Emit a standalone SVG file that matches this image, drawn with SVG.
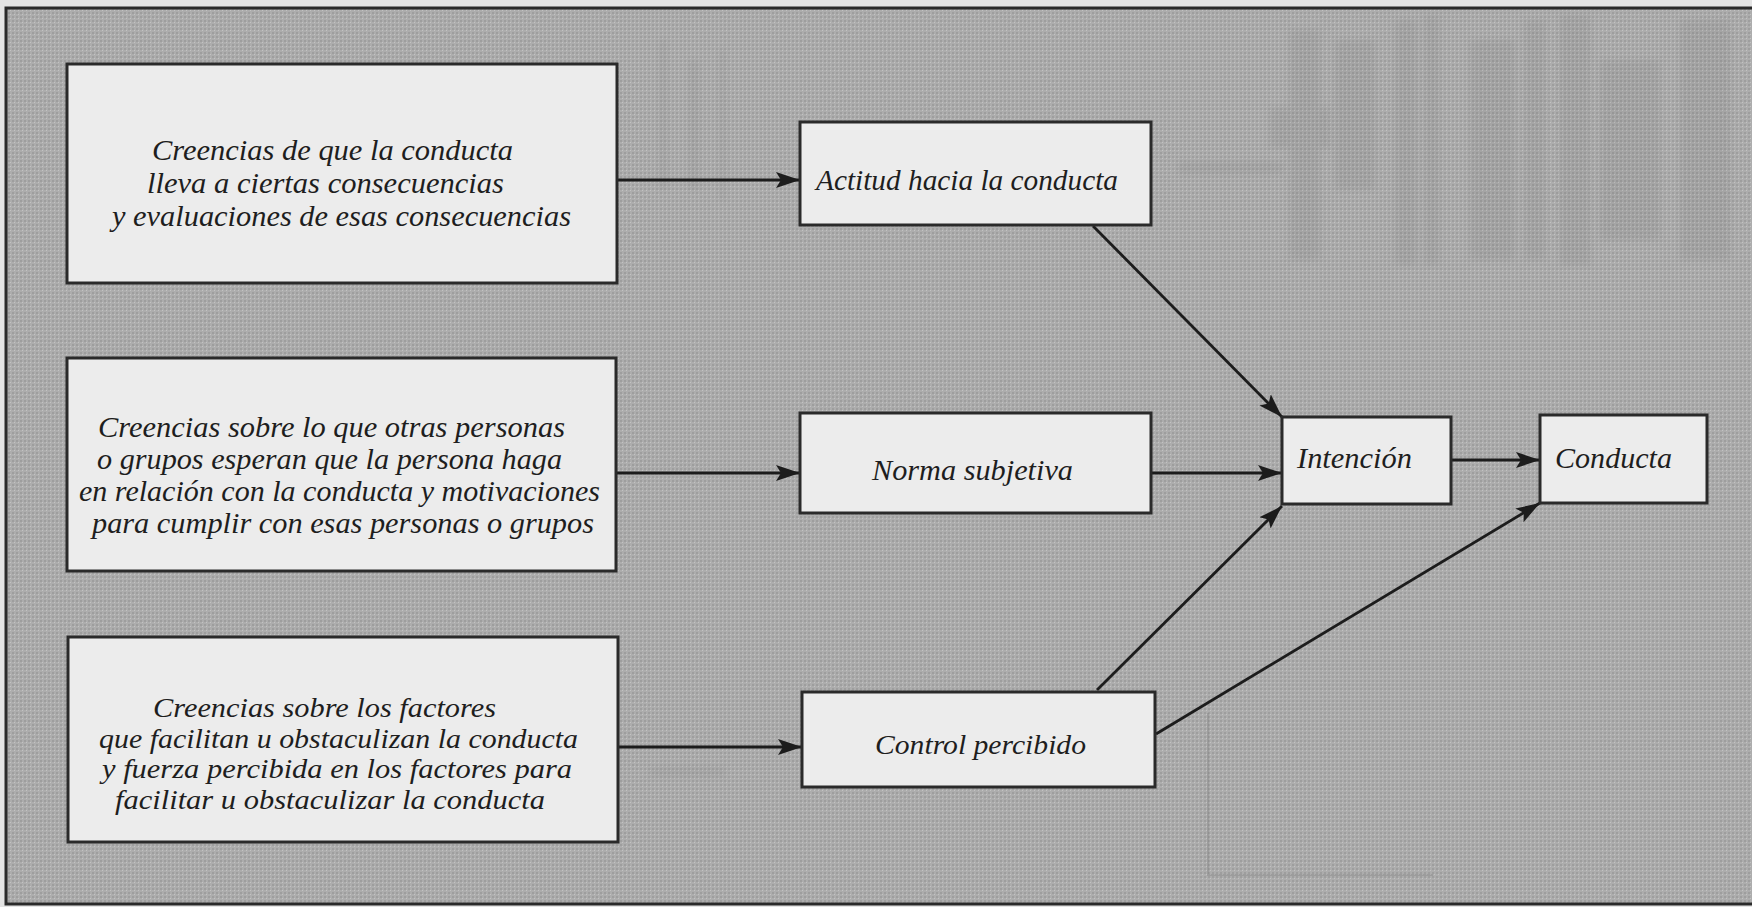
<svg xmlns="http://www.w3.org/2000/svg" width="1752" height="907" viewBox="0 0 1752 907">
  <defs>
    <!-- halftone screen for the printed background -->
    <pattern id="screen" width="4" height="4" patternUnits="userSpaceOnUse">
      <rect width="4" height="4" fill="#adadad"/>
      <rect x="0" y="0" width="2" height="2" fill="#909090" opacity="0.5"/>
      <rect x="2" y="2" width="1" height="1" fill="#d2d2d2" opacity="0.6"/>
    </pattern>
    <filter id="soft" x="-10%" y="-10%" width="120%" height="120%">
      <feGaussianBlur stdDeviation="3"/>
    </filter>
    <marker id="arrow" markerUnits="userSpaceOnUse" markerWidth="26" markerHeight="20" refX="24" refY="10" orient="auto">
      <path d="M0,2 L24,10 L0,18 L5,10 Z" fill="#1c1c1c"/>
    </marker>
    <style>
      .box { fill: #ececec; stroke: #2a2a2a; stroke-width: 3; }
      .lbl { font-family: "Liberation Serif", "Times New Roman", serif; font-style: italic; font-size: 30px; fill: #1e1e1e; }
      .b1 { font-size: 29.5px; }
      .b2 { font-size: 28.5px; }
      .small { font-size: 27px; }
      .conn { stroke: #1c1c1c; stroke-width: 2.8; fill: none; marker-end: url(#arrow); }
      .ghost { fill: #5a5a5a; }
    </style>
  </defs>

  <!-- paper margin and printed panel -->
  <rect x="0" y="0" width="1752" height="907" fill="#e4e4e4"/>
  <rect x="6" y="8" width="1760" height="896" fill="url(#screen)" stroke="#2a2a2a" stroke-width="3"/>

  <!-- faint show-through from the facing page -->
  <g id="show-through" opacity="0.09" filter="url(#soft)">
    <rect class="ghost" x="1290" y="30" width="30" height="230"/>
    <rect class="ghost" x="1335" y="40" width="40" height="150"/>
    <rect class="ghost" x="1395" y="20" width="22" height="245"/>
    <rect class="ghost" x="1425" y="15" width="14" height="250"/>
    <rect class="ghost" x="1470" y="40" width="45" height="220"/>
    <rect class="ghost" x="1525" y="20" width="20" height="240"/>
    <rect class="ghost" x="1560" y="15" width="30" height="250"/>
    <rect class="ghost" x="1600" y="60" width="60" height="180"/>
    <rect class="ghost" x="1680" y="20" width="50" height="240"/>
    <rect class="ghost" x="1178" y="162" width="105" height="12"/>
    <rect class="ghost" x="1270" y="108" width="60" height="40"/>
    <rect class="ghost" x="660" y="40" width="6" height="150"/>
    <rect class="ghost" x="690" y="60" width="8" height="130"/>
    <rect class="ghost" x="720" y="50" width="5" height="150"/>
    <rect class="ghost" x="650" y="768" width="75" height="8"/>
  </g>
  <g id="ghost-frame" fill="none" stroke="#6a6a6a" stroke-width="2" opacity="0.25">
    <path d="M1208,713 L1208,875 L1433,875"/>
  </g>

  <g id="connectors">
    <path class="conn" d="M617,180 L800,180"/>
    <path class="conn" d="M616,473 L800,473"/>
    <path class="conn" d="M618,747 L802,747"/>
    <path class="conn" d="M1093,226 L1282,417"/>
    <path class="conn" d="M1151,473 L1282,473"/>
    <path class="conn" d="M1097,690 L1282,506"/>
    <path class="conn" d="M1156,734 L1540,503"/>
    <path class="conn" d="M1451,460 L1540,460"/>
  </g>

  <g id="creencias-consecuencias">
    <rect class="box" x="67" y="64" width="550" height="219"/>
    <text class="lbl b1" x="152" y="160" textLength="361" lengthAdjust="spacingAndGlyphs">Creencias de que la conducta</text>
    <text class="lbl b1" x="147" y="193" textLength="357" lengthAdjust="spacingAndGlyphs">lleva a ciertas consecuencias</text>
    <text class="lbl b1" x="112" y="226" textLength="459" lengthAdjust="spacingAndGlyphs">y evaluaciones de esas consecuencias</text>
  </g>

  <g id="creencias-normativas">
    <rect class="box" x="67" y="358" width="549" height="213"/>
    <text class="lbl b2" x="98" y="437" textLength="467" lengthAdjust="spacingAndGlyphs">Creencias sobre lo que otras personas</text>
    <text class="lbl b2" x="97" y="469" textLength="465" lengthAdjust="spacingAndGlyphs">o grupos esperan que la persona haga</text>
    <text class="lbl b2" x="79" y="501" textLength="521" lengthAdjust="spacingAndGlyphs">en relación con la conducta y motivaciones</text>
    <text class="lbl b2" x="92" y="533" textLength="502" lengthAdjust="spacingAndGlyphs">para cumplir con esas personas o grupos</text>
  </g>

  <g id="creencias-control">
    <rect class="box" x="68" y="637" width="550" height="205"/>
    <text class="lbl small" x="153" y="717" textLength="343" lengthAdjust="spacingAndGlyphs">Creencias sobre los factores</text>
    <text class="lbl small" x="99" y="748" textLength="479" lengthAdjust="spacingAndGlyphs">que facilitan u obstaculizan la conducta</text>
    <text class="lbl small" x="102" y="778" textLength="470" lengthAdjust="spacingAndGlyphs">y fuerza percibida en los factores para</text>
    <text class="lbl small" x="115" y="809" textLength="430" lengthAdjust="spacingAndGlyphs">facilitar u obstaculizar la conducta</text>
  </g>

  <g id="actitud">
    <rect class="box" x="800" y="122" width="351" height="103"/>
    <text class="lbl" x="816" y="190" textLength="302" lengthAdjust="spacingAndGlyphs">Actitud hacia la conducta</text>
  </g>

  <g id="norma">
    <rect class="box" x="800" y="413" width="351" height="100"/>
    <text class="lbl" x="872" y="480" textLength="201" lengthAdjust="spacingAndGlyphs">Norma subjetiva</text>
  </g>

  <g id="control">
    <rect class="box" x="802" y="692" width="353" height="95"/>
    <text class="lbl small" x="875" y="754" textLength="211" lengthAdjust="spacingAndGlyphs">Control percibido</text>
  </g>

  <g id="intencion">
    <rect class="box" x="1282" y="417" width="169" height="87"/>
    <text class="lbl" x="1297" y="468" textLength="115" lengthAdjust="spacingAndGlyphs">Intención</text>
  </g>

  <g id="conducta">
    <rect class="box" x="1540" y="415" width="167" height="88"/>
    <text class="lbl" x="1555" y="468" textLength="117" lengthAdjust="spacingAndGlyphs">Conducta</text>
  </g>
</svg>
